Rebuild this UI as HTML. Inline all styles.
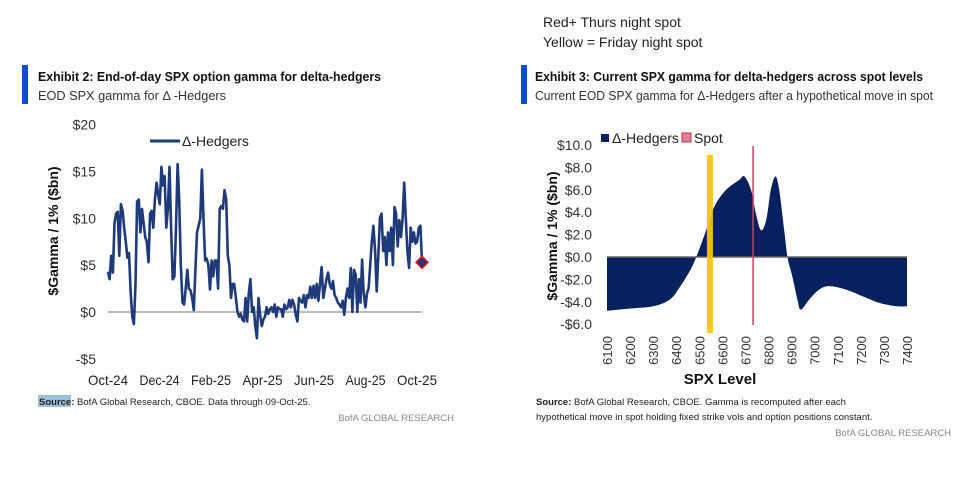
<!DOCTYPE html>
<html><head><meta charset="utf-8"><style>
html,body{margin:0;padding:0;background:#fff;}
svg{display:block;font-family:"Liberation Sans",sans-serif;}
</style></head><body>
<svg id="root" width="959" height="481" viewBox="0 0 959 481">
<text x="543" y="27" font-size="14" fill="#222">Red+ Thurs night spot</text>
<text x="543" y="47" font-size="14" fill="#222">Yellow = Friday night spot</text>

<rect x="22" y="65" width="6" height="39" fill="#0a4fd0"/>
<text x="38" y="81" font-size="12.5" font-weight="bold" fill="#111" textLength="343" lengthAdjust="spacingAndGlyphs">Exhibit 2: End-of-day SPX option gamma for delta-hedgers</text>
<text x="38" y="100" font-size="13" fill="#333" textLength="188" lengthAdjust="spacingAndGlyphs">EOD SPX gamma for  Δ -Hedgers</text>

<rect x="521" y="65" width="6" height="39" fill="#0a4fd0"/>
<text x="535" y="81" font-size="12.5" font-weight="bold" fill="#111" textLength="388" lengthAdjust="spacingAndGlyphs">Exhibit 3: Current SPX gamma for delta-hedgers across spot levels</text>
<text x="535" y="100" font-size="13" fill="#333" textLength="398" lengthAdjust="spacingAndGlyphs">Current EOD SPX gamma for Δ-Hedgers after a hypothetical move in spot</text>

<g id="left"></g>
<g id="right"></g>

<rect x="38" y="395" width="33" height="12" fill="#9fc0dc"/>
<text x="39" y="405" font-size="9.5" fill="#222"><tspan font-weight="bold">Source:</tspan> BofA Global Research, CBOE. Data through 09-Oct-25.</text>
<text x="454" y="421" font-size="9.5" fill="#888" text-anchor="end">BofA GLOBAL RESEARCH</text>
<text x="536" y="405" font-size="9.5" fill="#222"><tspan font-weight="bold">Source:</tspan> BofA Global Research, CBOE. Gamma is recomputed after each</text>
<text x="536" y="420" font-size="9.5" fill="#222">hypothetical move in spot holding fixed strike vols and option positions constant.</text>
<text x="951" y="436" font-size="9.5" fill="#888" text-anchor="end">BofA GLOBAL RESEARCH</text>
</svg>
<script>
// ---- Left chart data ----
const leftYTicks = [20, 15, 10, 5, 0, -5];
const leftYLabels = ["$20", "$15", "$10", "$5", "$0", "-$5"];
const leftXLabels = ["Oct-24", "Dec-24", "Feb-25", "Apr-25", "Jun-25", "Aug-25", "Oct-25"];
const gammaSeries = [4.3,3.5,6,4.2,9.5,10.5,10.7,6,11.5,10.8,9,7.5,5.8,6.3,2,-0.5,-1.3,3,11.8,12,8.5,11,9.5,8,7.5,5.3,10.5,10.8,9,12,13.8,12.5,11.5,15.5,13.5,14.5,9,11,15.5,9,3.5,3.8,9,15.8,12,5,1,0.8,2.5,4.5,2.5,2.3,1.5,0.2,4.5,8.5,9.2,10,15.2,10,5.5,5.7,5,2.4,5.5,3.8,5.5,5.5,2.5,11,11.3,11,13,12,6,5,1.5,3,3,1.5,0,-0.5,-0.2,-0.8,-1,1.5,-1,2,3.5,0,0.5,-1.5,-2.8,1.5,-0.3,-1.5,-0.8,-0.5,0.5,-0.2,0.3,0.5,0,0.8,-0.5,0.5,0.3,0.3,-0.5,0.8,0.3,0.5,1.3,0.5,1.3,0.8,-0.3,-1,1.5,1.2,1,1.8,0.5,1.8,1.5,2.7,1.5,2.8,1.5,3,1.2,3,4.8,1.5,2.5,3.5,4.2,3,2.5,3.3,1.8,1.5,1,0.8,0.5,1.2,-0.3,1.5,2.5,1.5,4.7,0,4.5,4,0,3.5,1,5.6,2,0.5,2,2.5,5,7.5,9.2,6.5,2.2,6,10,10.5,6.5,8,5,8.5,6.5,9,5,11.2,10.5,7,9.8,8,10,13.8,10,6.5,4.7,9,7.5,8.5,7.3,7.5,9,9.2,5.3];

// ---- Right chart data ----
const spxLevels = [6100,6200,6300,6372,6415,6460,6487,6530,6565,6616,6674,6695,6724,6745,6767,6790,6810,6830,6846,6868,6882,6904,6925,6940,6976,7020,7063,7135,7207,7280,7354,7400];
const spxGamma = [-4.8,-4.6,-4.4,-3.8,-2.7,-1.2,0,2.4,4.5,6.0,6.9,7.2,6.0,3.9,2.4,3.3,6.0,7.2,6.0,2.4,0,-1.8,-3.8,-4.7,-3.8,-2.9,-2.6,-2.9,-3.5,-4.1,-4.4,-4.4];
const rightYTicks = [10,8,6,4,2,0,-2,-4,-6];
const rightYLabels = ["$10.0","$8.0","$6.0","$4.0","$2.0","$0.0","-$2.0","-$4.0","-$6.0"];
const rightXTicks = [6100,6200,6300,6400,6500,6600,6700,6800,6900,7000,7100,7200,7300,7400];
const thursSpot = 6733;
const fridaySpot = 6546;

const NS = "http://www.w3.org/2000/svg";
function mk(parent, tag, attrs, text){
  const e = document.createElementNS(NS, tag);
  for (const k in attrs) e.setAttribute(k, attrs[k]);
  if (text !== undefined) e.textContent = text;
  parent.appendChild(e);
  return e;
}

// Left
const L = document.getElementById('left');
const lx0 = 108, lx1 = 422;
const ly = v => 312 - v * 9.37;
const lx = i => lx0 + (lx1 - lx0) * i / (gammaSeries.length - 1);
leftYTicks.forEach((t, i) => {
  const e = mk(L, 'text', {x: 96, y: ly(t) + 5, 'font-size': 14, fill: '#333', 'text-anchor': 'end'}, leftYLabels[i]);
  
  
});
leftXLabels.forEach((t, i) => {
  const e = mk(L, 'text', {x: 108 + i * 51.5, y: 385, 'font-size': 14, fill: '#222', 'text-anchor': 'middle', textLength: 40, lengthAdjust: 'spacingAndGlyphs'}, t);
  
  
});
const lyt = mk(L, 'text', {x: 0, y: 0, 'font-size': 14, 'font-weight': 'bold', fill: '#111', 'text-anchor': 'middle', transform: 'translate(58,231) rotate(-90)'}, '$Gamma / 1% ($bn)');


const zl = mk(L, 'line', {x1: lx0, x2: lx1, y1: ly(0), y2: ly(0), stroke: '#777', 'stroke-width': 1});


const pts = gammaSeries.map((v, i) => lx(i).toFixed(1) + ',' + ly(v).toFixed(1)).join(' ');
const pl = mk(L, 'polyline', {points: pts, fill: 'none', stroke: '#1f3a7a', 'stroke-width': 2.6, 'stroke-linejoin': 'round'});


const last = gammaSeries.length - 1;
const dx = lx(last), dy = ly(gammaSeries[last]);
const dm = mk(L, 'polygon', {points: `${dx},${dy-6} ${dx+6},${dy} ${dx},${dy+6} ${dx-6},${dy}`, fill: '#1f3a7a', stroke: '#e11', 'stroke-width': 1.5});


const ll = mk(L, 'line', {x1: 150, x2: 180, y1: 141, y2: 141, stroke: '#1f3a7a', 'stroke-width': 3});


const lt = mk(L, 'text', {x: 182, y: 146, 'font-size': 14, fill: '#222'}, 'Δ-Hedgers');



// Right
const R = document.getElementById('right');
const rx = s => 607 + (s - 6100) * 300 / 1300;
const ry = v => 257 - v * 11.2;
rightYTicks.forEach((t, i) => {
  const e = mk(R, 'text', {x: 592, y: ry(t) + 5, 'font-size': 14, fill: '#333', 'text-anchor': 'end'}, rightYLabels[i]);
  
  
});
rightXTicks.forEach(t => {
  const e = mk(R, 'text', {x: 0, y: 0, 'font-size': 13, fill: '#333', 'text-anchor': 'end', transform: `translate(${rx(t)+5},336) rotate(-90)`}, String(t));
  
  
});
const rxt = mk(R, 'text', {x: 720, y: 384, 'font-size': 15, 'font-weight': 'bold', fill: '#111', 'text-anchor': 'middle'}, 'SPX Level');


const ryt = mk(R, 'text', {x: 0, y: 0, 'font-size': 14, 'font-weight': 'bold', fill: '#111', 'text-anchor': 'middle', transform: 'translate(557,236) rotate(-90)'}, '$Gamma / 1% ($bn)');


const P = spxLevels.map((s, i) => [rx(s), ry(spxGamma[i])]);
let d = `M${rx(spxLevels[0])},${ry(0)} L${P[0][0]},${P[0][1]}`;
for (let i = 0; i < P.length - 1; i++) {
  const p0 = P[Math.max(0, i-1)], p1 = P[i], p2 = P[i+1], p3 = P[Math.min(P.length-1, i+2)];
  const c1 = [p1[0] + (p2[0]-p0[0])/6, p1[1] + (p2[1]-p0[1])/6];
  const c2 = [p2[0] - (p3[0]-p1[0])/6, p2[1] - (p3[1]-p1[1])/6];
  d += ` C${c1[0].toFixed(1)},${c1[1].toFixed(1)} ${c2[0].toFixed(1)},${c2[1].toFixed(1)} ${p2[0].toFixed(1)},${p2[1].toFixed(1)}`;
}
d += ` L${rx(spxLevels[spxLevels.length-1])},${ry(0)} Z`;
const ar = mk(R, 'path', {d: d, fill: '#06215e'});


const rz = mk(R, 'line', {x1: rx(6100), x2: rx(7400), y1: ry(0), y2: ry(0), stroke: '#666', 'stroke-width': 1.5});


const yl = mk(R, 'rect', {x: rx(fridaySpot) - 3, y: 155, width: 6, height: 178, fill: '#f7c600', opacity: 0.95});


const rl = mk(R, 'line', {x1: rx(thursSpot), x2: rx(thursSpot), y1: 146, y2: 325, stroke: '#d04060', 'stroke-width': 1.5});


const lg1 = mk(R, 'rect', {x: 601, y: 134, width: 8, height: 8, fill: '#06215e'});


const lg1t = mk(R, 'text', {x: 612, y: 143, 'font-size': 14, fill: '#222'}, 'Δ-Hedgers');


const lg2 = mk(R, 'rect', {x: 682, y: 133, width: 9, height: 9, fill: '#e08090', stroke: '#c03050', 'stroke-width': 1});


const lg2t = mk(R, 'text', {x: 694, y: 143, 'font-size': 14, fill: '#222'}, 'Spot');


</script>
</body></html>
